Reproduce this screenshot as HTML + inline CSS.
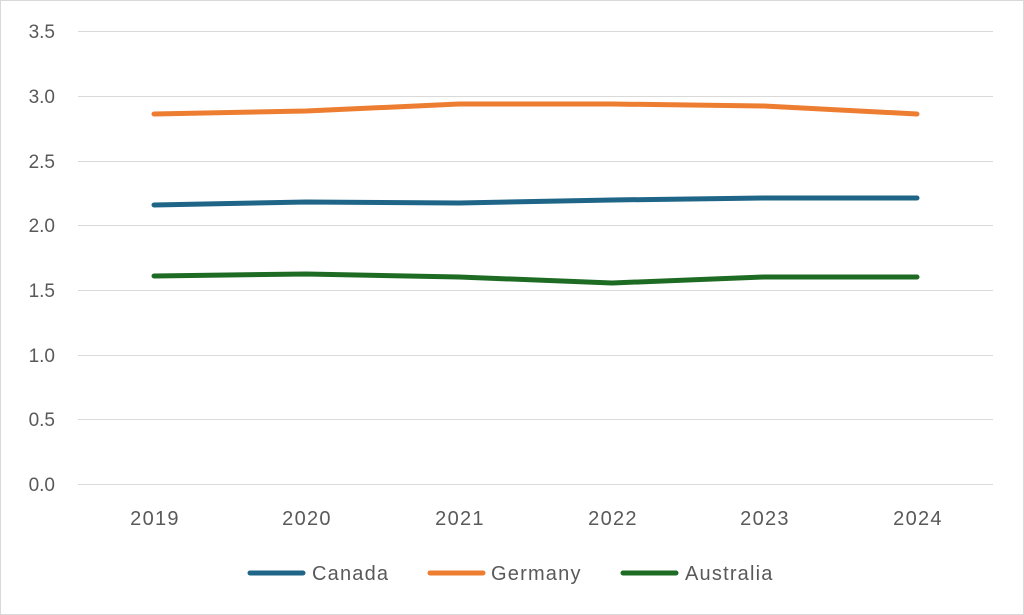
<!DOCTYPE html>
<html><head><style>
html,body{margin:0;padding:0;background:#fff;}
svg{display:block;font-family:"Liberation Sans",Arial,sans-serif;}
</style></head><body>
<svg width="1024" height="615" viewBox="0 0 1024 615">
<rect x="0.5" y="0.5" width="1023" height="614" fill="#fff" stroke="#d9d9d9"/>
<g stroke="#d9d9d9" stroke-width="1">
<line x1="78" y1="31.5" x2="993" y2="31.5"/>
<line x1="78" y1="96.5" x2="993" y2="96.5"/>
<line x1="78" y1="161.5" x2="993" y2="161.5"/>
<line x1="78" y1="225.5" x2="993" y2="225.5"/>
<line x1="78" y1="290.5" x2="993" y2="290.5"/>
<line x1="78" y1="355.5" x2="993" y2="355.5"/>
<line x1="78" y1="419.5" x2="993" y2="419.5"/>
<line x1="78" y1="484.5" x2="993" y2="484.5"/>
</g>
<g fill="#595959" font-size="19" text-anchor="end">
<text x="55" y="38">3.5</text>
<text x="55" y="103">3.0</text>
<text x="55" y="168">2.5</text>
<text x="55" y="232">2.0</text>
<text x="55" y="297">1.5</text>
<text x="55" y="362">1.0</text>
<text x="55" y="426">0.5</text>
<text x="55" y="491">0.0</text>
</g>
<g fill="#595959" font-size="20" letter-spacing="1.3" text-anchor="middle">
<text x="155" y="525">2019</text>
<text x="307" y="525">2020</text>
<text x="460" y="525">2021</text>
<text x="613" y="525">2022</text>
<text x="765" y="525">2023</text>
<text x="918" y="525">2024</text>
</g>
<g fill="none" stroke-width="5" stroke-linecap="round" stroke-linejoin="round">
<polyline stroke="#ed7d31" points="154,114 306,111 459,104 612,104 764,106 917,114"/>
<polyline stroke="#1f6587" points="154,205 306,202 459,203 612,200 764,198 917,198"/>
<polyline stroke="#1e6b24" points="154,276 306,274 459,277 612,283 764,277 917,277"/>
</g>
<g stroke-width="5" stroke-linecap="round">
<line x1="250" y1="573" x2="303" y2="573" stroke="#1f6587"/>
<line x1="430" y1="573" x2="483" y2="573" stroke="#ed7d31"/>
<line x1="623" y1="573" x2="676" y2="573" stroke="#1e6b24"/>
</g>
<g fill="#595959" font-size="20" letter-spacing="1.2">
<text x="312" y="580">Canada</text>
<text x="491" y="580">Germany</text>
<text x="685" y="580">Australia</text>
</g>
</svg>
</body></html>
